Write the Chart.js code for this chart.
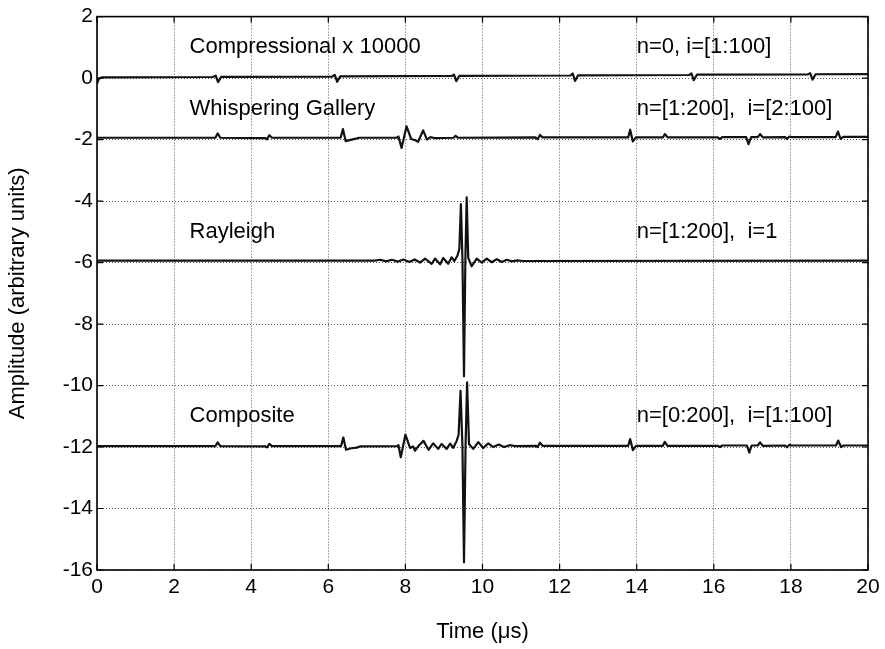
<!DOCTYPE html>
<html><head><meta charset="utf-8">
<script src="https://cdn.jsdelivr.net/npm/chart.js@4.4.0/dist/chart.umd.min.js"></script>
<style>html,body{margin:0;padding:0;background:#fff;}</style>
</head><body>
<canvas id="c" width="885" height="649"></canvas>
<script>
// ---- tick labels ----
const xTicks = [0, 2, 4, 6, 8, 10, 12, 14, 16, 18, 20];
const yTicks = [2, 0, -2, -4, -6, -8, -10, -12, -14, -16];

// ---- annotations ----
const traceNames = ['Compressional x 10000', 'Whispering Gallery', 'Rayleigh', 'Composite'];
const traceParams = ['n=0, i=[1:100]', 'n=[1:200],  i=[2:100]', 'n=[1:200],  i=1', 'n=[0:200],  i=[1:100]'];
const labelY = [1, -1, -5, -11];
const nameX = 2.4;
const paramX = 14;

// ---- Compressional x 10000 (baseline 0) ----
const compX = [0, 0.05, 0.12, 3.0, 3.08, 3.14, 3.22, 6.1, 6.17, 6.23, 6.31, 9.2, 9.26, 9.32, 9.4, 12.28, 12.34, 12.4, 12.48, 15.36, 15.42, 15.48, 15.56, 18.44, 18.5, 18.56, 18.64, 20];
const compY = [-0.18, -0.02, 0.02, 0.035, 0.08, -0.13, 0.04, 0.05, 0.1, -0.12, 0.055, 0.07, 0.11, -0.1, 0.075, 0.085, 0.15, -0.09, 0.09, 0.1, 0.15, -0.07, 0.11, 0.12, 0.16, -0.05, 0.125, 0.13];

// ---- Whispering Gallery (baseline -2) ----
const wgX = [0, 3.07, 3.13, 3.2, 4.37, 4.41, 4.47, 4.54, 6.32, 6.38, 6.45, 6.55, 6.72, 6.8, 7.78, 7.82, 7.9, 8.03, 8.15, 8.26, 8.33, 8.46, 8.56, 8.65, 8.75, 9.25, 9.3, 9.36, 11.38, 11.43, 11.49, 11.56, 13.78, 13.83, 13.9, 13.98, 14.68, 14.73, 14.8, 16.1, 16.16, 16.22, 16.84, 16.9, 16.97, 17.14, 17.2, 17.27, 17.85, 17.9, 17.96, 18.02, 19.16, 19.22, 19.29, 19.36, 20];
const wgY = [-1.94, -1.94, -1.8, -1.94, -1.95, -1.99, -1.86, -1.94, -1.94, -1.66, -2.05, -2.02, -1.97, -1.94, -1.94, -1.9, -2.27, -1.57, -1.98, -2.02, -2.07, -1.7, -2.0, -1.92, -1.95, -1.94, -1.88, -1.94, -1.93, -1.99, -1.85, -1.93, -1.93, -1.68, -2.06, -1.93, -1.93, -1.82, -1.93, -1.93, -1.98, -1.92, -1.92, -2.15, -1.92, -1.92, -1.82, -1.93, -1.92, -1.98, -1.9, -1.92, -1.92, -1.74, -1.98, -1.91, -1.91];

// ---- Rayleigh (baseline -6) ----
const rlX = [0, 7.2, 7.35, 7.5, 7.65, 7.8, 7.95, 8.1, 8.24, 8.38, 8.51, 8.6, 8.68, 8.77, 8.9, 8.98, 9.11, 9.2, 9.27, 9.35, 9.4, 9.44, 9.48, 9.52, 9.555, 9.59, 9.63, 9.72, 9.85, 9.98, 10.11, 10.24, 10.37, 10.5, 10.63, 10.76, 10.9, 11.05, 20];
const rlY = [-5.94, -5.94, -5.91, -5.96, -5.91, -5.97, -5.9, -5.98, -5.9, -6.0, -5.87, -5.96, -6.04, -5.87, -6.06, -5.85, -6.04, -5.83, -5.95, -5.78, -5.55, -4.1, -5.9, -9.7, -5.95, -3.88, -5.85, -6.12, -5.87, -6.0, -5.87, -5.99, -5.89, -5.98, -5.91, -5.96, -5.93, -5.95, -5.94];

// ---- Composite (baseline -12) ----
const cpX = [0, 3.07, 3.13, 3.2, 4.37, 4.41, 4.47, 4.54, 6.33, 6.39, 6.46, 6.6, 6.74, 6.82, 7.78, 7.82, 7.88, 8.0, 8.12, 8.2, 8.25, 8.35, 8.47, 8.6, 8.72, 8.85, 8.94, 9.07, 9.16, 9.24, 9.33, 9.38, 9.43, 9.48, 9.52, 9.56, 9.6, 9.65, 9.76, 9.89, 10.02, 10.15, 10.28, 10.42, 10.56, 10.7, 10.85, 11.38, 11.43, 11.49, 11.56, 13.78, 13.83, 13.9, 13.98, 14.68, 14.73, 14.8, 16.1, 16.16, 16.22, 16.86, 16.92, 16.98, 17.14, 17.2, 17.27, 17.85, 17.9, 17.96, 18.02, 19.17, 19.23, 19.3, 19.37, 20];
const cpY = [-11.97, -11.97, -11.85, -11.97, -11.98, -12.01, -11.9, -11.97, -11.97, -11.69, -12.09, -12.04, -12.02, -11.98, -11.97, -11.94, -12.33, -11.6, -12.03, -11.98, -12.12, -11.95, -11.8, -12.09, -11.88, -12.06, -11.9, -12.06, -11.89, -12.03, -11.8, -11.6, -10.17, -12.0, -15.75, -12.0, -9.9, -11.9, -12.06, -11.84, -12.03, -11.88, -12.0, -11.92, -12.0, -11.94, -11.97, -11.96, -12.0, -11.86, -11.96, -11.96, -11.74, -12.1, -11.96, -11.96, -11.83, -11.96, -11.96, -12.0, -11.95, -11.95, -12.18, -11.95, -11.95, -11.85, -11.96, -11.95, -12.01, -11.93, -11.95, -11.95, -11.79, -12.0, -11.95, -11.95];

const FONT = '"Liberation Sans", Arial, Helvetica, sans-serif';
const toPts = (xs, ys) => xs.map((x, i) => ({x: x, y: ys[i]}));
const lineDs = (xs, ys) => ({
  data: toPts(xs, ys), borderColor: '#111', borderWidth: 2.2, pointRadius: 0,
  tension: 0, fill: false, borderJoinStyle: 'round'
});

const framePlugin = {
  id: 'frame',
  afterDatasetsDraw(chart) {
    const {ctx, chartArea: a, scales: {x, y}} = chart;
    const tl = 6;
    ctx.save();
    ctx.strokeStyle = '#000';
    ctx.lineWidth = 1.2;
    ctx.beginPath();
    xTicks.forEach(v => {
      const px = x.getPixelForValue(v);
      ctx.moveTo(px, a.bottom); ctx.lineTo(px, a.bottom - tl);
      ctx.moveTo(px, a.top); ctx.lineTo(px, a.top + tl);
    });
    yTicks.forEach(v => {
      const py = y.getPixelForValue(v);
      ctx.moveTo(a.left, py); ctx.lineTo(a.left + tl, py);
      ctx.moveTo(a.right, py); ctx.lineTo(a.right - tl, py);
    });
    ctx.stroke();
    ctx.lineWidth = 1.6;
    ctx.strokeRect(a.left, a.top, a.right - a.left, a.bottom - a.top);
    ctx.fillStyle = '#000';
    ctx.font = '22px ' + FONT;
    ctx.textBaseline = 'middle';
    ctx.textAlign = 'left';
    traceNames.forEach((t, i) => {
      ctx.fillText(t, x.getPixelForValue(nameX), y.getPixelForValue(labelY[i]));
    });
    traceParams.forEach((t, i) => {
      ctx.fillText(t, x.getPixelForValue(paramX), y.getPixelForValue(labelY[i]));
    });
    ctx.restore();
  }
};

new Chart(document.getElementById('c'), {
  type: 'line',
  data: {datasets: [lineDs(compX, compY), lineDs(wgX, wgY), lineDs(rlX, rlY), lineDs(cpX, cpY)]},
  options: {
    responsive: false, animation: false, devicePixelRatio: 1,
    layout: {padding: {left: 0, right: 17, top: 15, bottom: 0}},
    plugins: {legend: {display: false}, tooltip: {enabled: false}},
    scales: {
      x: {
        type: 'linear', min: 0, max: 20,
        afterBuildTicks: s => { s.ticks = xTicks.map(v => ({value: v})); },
        afterFit: s => { s.height = 79; },
        grid: {color: '#555', lineWidth: 1, drawTicks: false, borderDash: [1, 2]},
        border: {display: false, dash: [1, 2]},
        ticks: {color: '#000', font: {size: 21, family: FONT}, padding: 5, maxRotation: 0, autoSkip: false},
        title: {display: true, text: 'Time (μs)', color: '#000', font: {size: 22, family: FONT}, padding: {top: 0, bottom: 4}}
      },
      y: {
        type: 'linear', min: -16, max: 2,
        afterBuildTicks: s => { s.ticks = yTicks.map(v => ({value: v})); },
        afterFit: s => { s.width = 97; },
        grid: {color: '#555', lineWidth: 1, drawTicks: false, borderDash: [1, 2]},
        border: {display: false, dash: [1, 2]},
        ticks: {color: '#000', font: {size: 21, family: FONT}, padding: 4, autoSkip: false},
        title: {display: true, text: 'Amplitude (arbitrary units)', color: '#000', font: {size: 22, family: FONT}, padding: {top: 5, bottom: 0}}
      }
    }
  },
  plugins: [framePlugin]
});
</script>
</body></html>
